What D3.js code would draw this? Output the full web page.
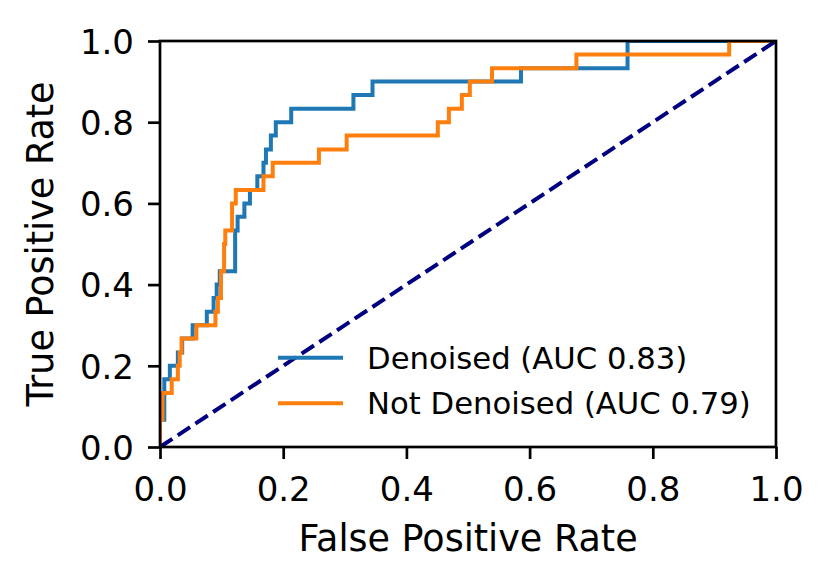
<!DOCTYPE html>
<html lang="en">
<head>
    <meta charset="UTF-8">
    <title>ROC Curve - Denoised vs Not Denoised</title>
    <script src="https://d3js.org/d3.v7.min.js"></script>
    <style>
        body {
            margin: 0;
            background: #ffffff;
        }
        svg {
            display: block;
            font-family: 'DejaVu Sans', sans-serif;
        }
        .tick-label { font-size: 34px; fill: #000; }
        .axis-label { font-size: 36.5px; fill: #000; }
        .legend-label { font-size: 30.7px; fill: #000; }
    </style>
</head>
<body>
    <svg id="chart" width="832" height="586"></svg>

    <script>
        // ROC curve data (fpr where the step happens, tpr reached after the step)
        const denoisedFpr = [0, 0, 0.007, 0.016, 0.029, 0.036, 0.053, 0.076, 0.087, 0.092, 0.097, 0.122, 0.126,
            0.137, 0.146, 0.158, 0.168, 0.172, 0.180, 0.188, 0.213, 0.314, 0.345, 0.586, 0.759, 1];
        const denoisedTpr = [0, 0.067, 0.167, 0.2, 0.233, 0.267, 0.3, 0.333, 0.367, 0.4, 0.433, 0.533, 0.567,
            0.6, 0.633, 0.667, 0.7, 0.733, 0.767, 0.8, 0.833, 0.867, 0.9, 0.933, 1, 1];

        const notDenoisedFpr = [0, 0, 0.004, 0.019, 0.029, 0.032, 0.035, 0.059, 0.090, 0.094, 0.099, 0.104, 0.106,
            0.117, 0.123, 0.168, 0.183, 0.258, 0.303, 0.451, 0.469, 0.490, 0.503, 0.539, 0.676, 0.924, 1];
        const notDenoisedTpr = [0, 0.067, 0.133, 0.167, 0.2, 0.233, 0.267, 0.3, 0.333, 0.367, 0.433, 0.5, 0.533,
            0.6, 0.633, 0.667, 0.7, 0.733, 0.767, 0.8, 0.833, 0.867, 0.9, 0.933, 0.967, 1, 1];

        const chanceLine = [0, 1];

        const seriesNames = ["Denoised (AUC 0.83)", "Not Denoised (AUC 0.79)"];
        const seriesColors = ["#1f77b4", "#ff7f0e"];

        const tickValues = [0, 0.2, 0.4, 0.6, 0.8, 1.0];

        // Layout
        const margin = { left: 160, top: 41 };
        const plotW = 616;
        const plotH = 406;

        const svg = d3.select("#chart");

        const x = d3.scaleLinear().domain([0, 1]).range([margin.left, margin.left + plotW]);
        const y = d3.scaleLinear().domain([0, 1]).range([margin.top + plotH, margin.top]);

        svg.append("defs").append("clipPath")
            .attr("id", "plot-clip")
            .append("rect")
            .attr("x", margin.left)
            .attr("y", margin.top)
            .attr("width", plotW)
            .attr("height", plotH);

        const plot = svg.append("g").attr("clip-path", "url(#plot-clip)");

        const series = [
            { fpr: denoisedFpr, tpr: denoisedTpr },
            { fpr: notDenoisedFpr, tpr: notDenoisedTpr }
        ];

        const line = d3.line()
            .x(d => x(d[0]))
            .y(d => y(d[1]))
            .curve(d3.curveStepAfter);

        series.forEach((s, i) => {
            const pts = s.fpr.map((f, j) => [f, s.tpr[j]]);
            plot.append("path")
                .datum(pts)
                .attr("d", line)
                .attr("fill", "none")
                .attr("stroke", seriesColors[i])
                .attr("stroke-width", 4);
        });

        // chance diagonal
        plot.append("path")
            .datum(chanceLine.map(v => [v, v]))
            .attr("d", d3.line().x(d => x(d[0])).y(d => y(d[1])))
            .attr("fill", "none")
            .attr("stroke", "#000080")
            .attr("stroke-width", 4)
            .attr("stroke-dasharray", "14.8,6.4");

        // Axes
        const fmt = d3.format(".1f");

        const xAxis = svg.append("g")
            .attr("transform", `translate(0,${margin.top + plotH})`)
            .call(d3.axisBottom(x).tickValues(tickValues).tickFormat(fmt).tickSize(12).tickPadding(10));

        const yAxis = svg.append("g")
            .attr("transform", `translate(${margin.left},0)`)
            .call(d3.axisLeft(y).tickValues(tickValues).tickFormat(fmt).tickSize(12).tickPadding(14));

        [xAxis, yAxis].forEach(ax => {
            ax.select(".domain").remove();
            ax.selectAll(".tick line").attr("stroke", "#000").attr("stroke-width", 2.7);
            ax.selectAll(".tick text")
                .attr("class", "tick-label")
                .attr("font-family", null)
                .attr("font-size", null);
            ax.attr("font-size", null).attr("font-family", null);
        });

        xAxis.selectAll(".tick text").attr("dy", null).attr("y", 54);
        yAxis.selectAll(".tick text").attr("dy", "0.36em");

        // Frame (spines)
        svg.append("rect")
            .attr("x", margin.left)
            .attr("y", margin.top)
            .attr("width", plotW)
            .attr("height", plotH)
            .attr("fill", "none")
            .attr("stroke", "#000")
            .attr("stroke-width", 2.7);

        // Axis titles
        svg.append("text")
            .attr("class", "axis-label")
            .attr("x", margin.left + plotW / 2)
            .attr("y", 551)
            .attr("text-anchor", "middle")
            .text("False Positive Rate");

        svg.append("text")
            .attr("class", "axis-label")
            .attr("transform", `translate(53,${margin.top + plotH / 2}) rotate(-90)`)
            .attr("text-anchor", "middle")
            .text("True Positive Rate");

        // Legend (no frame)
        const legendRows = [357.7, 403.3];
        seriesNames.forEach((name, i) => {
            svg.append("line")
                .attr("x1", 278).attr("x2", 343)
                .attr("y1", legendRows[i]).attr("y2", legendRows[i])
                .attr("stroke", seriesColors[i])
                .attr("stroke-width", 4);
            svg.append("text")
                .attr("class", "legend-label")
                .attr("x", 367)
                .attr("y", legendRows[i] + 11)
                .text(name);
        });
    </script>
</body>
</html>
